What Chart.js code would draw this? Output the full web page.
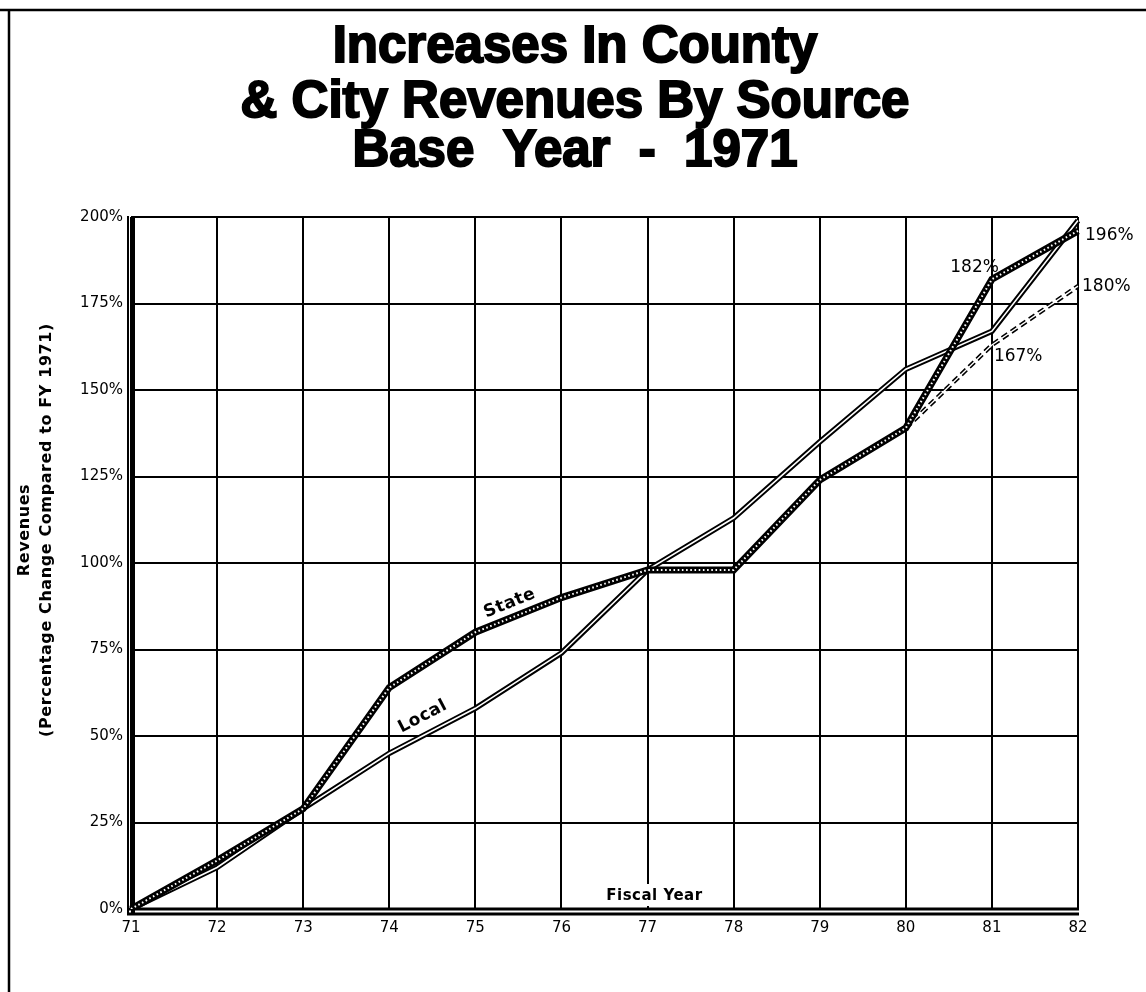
<!DOCTYPE html>
<html>
<head>
<meta charset="utf-8">
<script src="https://cdn.jsdelivr.net/npm/chart.js@4.4.1/dist/chart.umd.min.js"></script>
<style>
  html, body { margin: 0; padding: 0; background: #fff; }
</style>
</head>
<body>
<canvas id="chart" width="1146" height="992"></canvas>
<script>
// fiscal years (base year 1971)
const years = ['71', '72', '73', '74', '75', '76', '77', '78', '79', '80', '81', '82'];
// percentage change compared to FY 1971
const stateRevenue = [0, 14, 29, 64, 80, 90, 98, 98, 124, 139, 182, 196];
const localRevenue = [0, 12, 29, 45, 58, 74, 98, 113, 135, 156, 167, 199];
// dashed projection line from FY 80
const projected = [null, null, null, null, null, null, null, null, null, 139, 163, 180];

const titleLines = ['Increases In County', '& City Revenues By Source', 'Base  Year  -  1971'];
const yTitleLines = ['Revenues', '(Percentage Change Compared to FY 1971)'];
const xTitle = 'Fiscal Year';

// value callouts: year index, value, text
const calloutIndex = [10, 11, 11, 10];
const calloutValue = [182, 196, 180, 167];
const calloutText = ['182%', '196%', '180%', '167%'];

// line name labels: name, where along the x axis (fractional index)
const lineNames = ['State', 'Local'];
const lineNameAt = [4.46, 3.48];

const black = '#000';
const white = '#fff';

const decorations = {
  id: 'decorations',
  beforeDraw(chart) {
    const ctx = chart.ctx;
    ctx.save();
    ctx.fillStyle = white;
    ctx.fillRect(0, 0, chart.width, chart.height);
    // page frame
    ctx.strokeStyle = black;
    ctx.lineWidth = 2.5;
    ctx.beginPath();
    ctx.moveTo(0, 10); ctx.lineTo(chart.width, 10);
    ctx.moveTo(9, 10); ctx.lineTo(9, chart.height);
    ctx.stroke();

    // title
    ctx.fillStyle = black;
    ctx.strokeStyle = black;
    ctx.lineWidth = 2;
    ctx.textAlign = 'center';
    ctx.textBaseline = 'alphabetic';
    ctx.font = 'bold 51px "Liberation Sans", Arial, sans-serif';
    const baselines = [62, 117, 166];
    titleLines.forEach((t, i) => {
      ctx.fillText(t, 575, baselines[i]);
      ctx.strokeText(t, 575, baselines[i]);
    });

    // y axis title
    ctx.save();
    ctx.translate(0, 530);
    ctx.rotate(-Math.PI / 2);
    ctx.font = 'bold 16px "DejaVu Sans", sans-serif';
    if ('letterSpacing' in ctx) ctx.letterSpacing = '0.6px';
    ctx.textBaseline = 'middle';
    ctx.fillText(yTitleLines[0], 0, 25);
    ctx.fillText(yTitleLines[1], 0, 47);
    ctx.restore();
    ctx.restore();
  },
  beforeDatasetsDraw(chart) {
    const ctx = chart.ctx;
    const a = chart.chartArea;
    ctx.save();
    ctx.strokeStyle = black;
    // double axis lines, left and bottom
    ctx.lineWidth = 4;
    ctx.beginPath();
    ctx.moveTo(a.left + 2, a.top - 1); ctx.lineTo(a.left + 2, a.bottom + 6);
    ctx.stroke();
    ctx.lineWidth = 2;
    ctx.beginPath();
    ctx.moveTo(a.left - 3, a.top - 1); ctx.lineTo(a.left - 3, a.bottom + 6);
    ctx.stroke();
    ctx.lineWidth = 3;
    ctx.beginPath();
    ctx.moveTo(a.left - 4, a.bottom); ctx.lineTo(a.right + 1, a.bottom);
    ctx.moveTo(a.left - 4, a.bottom + 5); ctx.lineTo(a.right + 1, a.bottom + 5);
    ctx.stroke();

    // "Fiscal Year" sits inside the plot, breaking the grid
    const x = chart.scales.x.getPixelForValue(6.08);
    ctx.font = 'bold 15px "DejaVu Sans", sans-serif';
    if ('letterSpacing' in ctx) ctx.letterSpacing = '0.5px';
    const w = ctx.measureText(xTitle).width;
    ctx.fillStyle = white;
    ctx.fillRect(x - w / 2 - 4, a.bottom - 25, w + 8, 22);
    ctx.fillStyle = black;
    ctx.textAlign = 'center';
    ctx.textBaseline = 'middle';
    ctx.fillText(xTitle, x, a.bottom - 13);
    ctx.restore();
  },
  afterDatasetsDraw(chart) {
    const ctx = chart.ctx;
    const xs = chart.scales.x, ys = chart.scales.y;
    ctx.save();
    ctx.fillStyle = black;
    ctx.textBaseline = 'middle';
    ctx.font = '17px "DejaVu Sans", sans-serif';
    // label placement relative to its point
    const place = [
      { align: 'right', dx: 7, dy: -12 },
      { align: 'left', dx: 7, dy: 5 },
      { align: 'left', dx: 4, dy: 0 },
      { align: 'left', dx: 2, dy: 25 }
    ];
    calloutText.forEach((t, i) => {
      const px = xs.getPixelForValue(calloutIndex[i]);
      const py = ys.getPixelForValue(calloutValue[i]);
      ctx.textAlign = place[i].align;
      ctx.fillText(t, px + place[i].dx, py + place[i].dy);
    });

    // series names written along their lines
    const series = [stateRevenue, localRevenue];
    const gap = [14, 17];
    ctx.font = 'bold 17px "DejaVu Sans", sans-serif';
    if ('letterSpacing' in ctx) ctx.letterSpacing = '0.5px';
    ctx.textAlign = 'center';
    lineNames.forEach((name, i) => {
      const at = lineNameAt[i];
      const i0 = Math.floor(at);
      const data = series[i];
      const x0 = xs.getPixelForValue(i0), y0 = ys.getPixelForValue(data[i0]);
      const x1 = xs.getPixelForValue(i0 + 1), y1 = ys.getPixelForValue(data[i0 + 1]);
      const f = at - i0;
      const px = x0 + (x1 - x0) * f, py = y0 + (y1 - y0) * f;
      const ang = Math.atan2(y1 - y0, x1 - x0);
      ctx.save();
      ctx.translate(px, py);
      ctx.rotate(ang);
      ctx.fillText(name, 0, -gap[i]);
      ctx.restore();
    });
    ctx.restore();
  }
};

const line = (data, color, width, order, dash) => ({
  data: data,
  borderColor: color,
  borderWidth: width,
  borderDash: dash || [],
  borderCapStyle: 'butt',
  borderJoinStyle: 'miter',
  pointRadius: 0,
  pointHoverRadius: 0,
  tension: 0,
  fill: false,
  order: order
});

new Chart(document.getElementById('chart'), {
  type: 'line',
  data: {
    labels: years,
    datasets: [
      line(stateRevenue, white, 2, 0, [1.6, 2.6]),
      line(stateRevenue, black, 7, 1),
      line(localRevenue, white, 1.6, 2),
      line(localRevenue, black, 5.5, 3),
      line(projected, white, 1.4, 4),
      line(projected, black, 4.5, 5, [7, 4])
    ]
  },
  options: {
    responsive: false,
    animation: false,
    devicePixelRatio: 1,
    layout: { padding: { top: 217, right: 68, bottom: 43, left: 0 } },
    plugins: {
      legend: { display: false },
      tooltip: { enabled: false },
      title: { display: false }
    },
    scales: {
      x: {
        grid: { color: black, lineWidth: 2, drawTicks: false },
        border: { display: false },
        ticks: {
          color: black,
          font: { family: '"DejaVu Sans", sans-serif', size: 15 },
          padding: 10,
          maxRotation: 0,
          autoSkip: false
        },
        afterFit: s => { s.height = 40; }
      },
      y: {
        min: 0,
        max: 200,
        grid: { color: black, lineWidth: 2, drawTicks: false },
        border: { display: false },
        ticks: {
          stepSize: 25,
          color: black,
          font: { family: '"DejaVu Sans", sans-serif', size: 15 },
          padding: 8,
          callback: v => v + '%'
        },
        afterFit: s => { s.width = 131; }
      }
    }
  },
  plugins: [decorations]
});
</script>
</body>
</html>
